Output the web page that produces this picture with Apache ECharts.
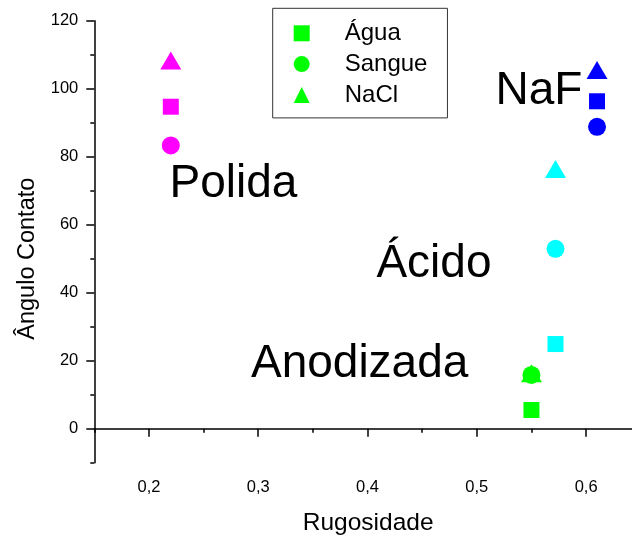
<!DOCTYPE html>
<html>
<head>
<meta charset="utf-8">
<script src="https://cdn.jsdelivr.net/npm/echarts@6/dist/echarts.min.js"></script>
<style>
html,body{margin:0;padding:0;background:#fff;}
#chart{width:632px;height:538px;}
</style>
</head>
<body>
<div id="chart"></div>
<script>
// ---- data ----
const groups = ['Polida', 'Anodizada', 'Ácido', 'NaF'];
const groupColors = ['#FF00FF', '#00FF00', '#00FFFF', '#0000FF'];
const rugosidade = [0.22, 0.55, 0.572, 0.61];
const agua = [94.7, 5.5, 24.9, 96.3];
const sangue = [83.3, 15.8, 52.9, 88.8];
const nacl = [108.3, 16.3, 76.4, 105.5];
const labelX = [0.2773, 0.3928, 0.4608, 0.5568];
const labelY = [71.9, 19.0, 48.4, 99.2];
const seriesNames = ['Água', 'Sangue', 'NaCl'];
const xTicks = [0.2, 0.3, 0.4, 0.5, 0.6];
const xMinorTicks = [0.15, 0.25, 0.35, 0.45, 0.55];
const yTicks = [0, 20, 40, 60, 80, 100, 120];
const yMinorTicks = [-10, 10, 30, 50, 70, 90, 110];

const FONT = '"Liberation Sans", Arial, sans-serif';
const chart = echarts.init(document.getElementById('chart'), null, {renderer: 'canvas'});

function pts(vals) {
  return vals.map((v, i) => ({value: [rugosidade[i], v], itemStyle: {color: groupColors[i]}}));
}
const symbols = ['rect', 'circle', 'triangle'];
const sizes = [16, 18, [21, 18]];
const valueSets = [agua, sangue, nacl];

const scatterSeries = seriesNames.map((n, k) => ({
  name: n,
  type: 'scatter',
  symbol: symbols[k],
  symbolSize: sizes[k],
  itemStyle: {color: '#00FF00', opacity: 1},
  data: pts(valueSets[k]),
  z: 3 + (2 - k),
  emphasis: {disabled: true}
}));

const labelSeries = {
  name: 'labels',
  type: 'scatter',
  symbolSize: 0,
  silent: true,
  itemStyle: {opacity: 1},
  data: groups.map((g, i) => ({name: g, value: [labelX[i], labelY[i]]})),
  label: {
    show: true, position: 'inside', formatter: p => p.name,
    color: '#000000', opacity: 1, fontSize: 46, fontFamily: FONT,
    textBorderWidth: 0
  },
  emphasis: {disabled: true},
  z: 2
};

const axisLabelCommon = {color: '#000', fontSize: 16.5, fontFamily: FONT};
const lineStyle = {color: '#000', width: 1.5};

const option = {
  animation: false,
  backgroundColor: '#fff',
  grid: {left: 94.3, top: 20.7, right: 0, bottom: 75.3, containLabel: false, outerBoundsMode: 'none'},
  legend: {
    data: seriesNames,
    orient: 'vertical',
    left: 272.7, top: 8.3,
    padding: [13, 20, 11, 21],
    itemWidth: 16, itemHeight: 16, itemGap: 6.8,
    borderColor: '#333', borderWidth: 1,
    textStyle: {color: '#000', fontSize: 24, fontFamily: FONT, lineHeight: 24, padding: [0, 0, 0, 30]},
    selectedMode: false
  },
  xAxis: [{
    type: 'value', min: 0.15, max: 0.642,
    name: 'Rugosidade', nameLocation: 'middle', nameGap: 48,
    nameTextStyle: {color: '#000', fontSize: 24.5, fontFamily: FONT, padding: [0, 0, 0, 10]},
    axisLine: {show: true, lineStyle: lineStyle},
    axisTick: {show: true, length: 8, lineStyle: lineStyle, customValues: xTicks},
    axisLabel: Object.assign({margin: 16, customValues: xTicks, formatter: v => String(v).replace('.', ',')}, axisLabelCommon),
    splitLine: {show: false}
  }, {
    type: 'value', min: 0.15, max: 0.642, position: 'bottom', gridIndex: 0,
    axisLine: {show: false},
    axisTick: {show: true, length: 4, lineStyle: lineStyle, customValues: xMinorTicks},
    axisLabel: {show: false},
    splitLine: {show: false}
  }],
  yAxis: [{
    type: 'value', min: -10, max: 120,
    name: 'Ângulo Contato', nameLocation: 'middle', nameGap: 55,
    nameTextStyle: {color: '#000', fontSize: 23.5, fontFamily: FONT, padding: [0, 34, 0, 0]},
    axisLine: {show: true, lineStyle: lineStyle},
    axisTick: {show: true, length: 8, lineStyle: lineStyle, customValues: yTicks},
    axisLabel: Object.assign({margin: 16, customValues: yTicks}, axisLabelCommon),
    splitLine: {show: false}
  }, {
    type: 'value', min: -10, max: 120, position: 'left', gridIndex: 0,
    axisLine: {show: false},
    axisTick: {show: true, length: 4, lineStyle: lineStyle, customValues: yMinorTicks},
    axisLabel: {show: false},
    splitLine: {show: false}
  }],
  series: [labelSeries].concat(scatterSeries)
};
chart.setOption(option);
</script>
</body>
</html>
